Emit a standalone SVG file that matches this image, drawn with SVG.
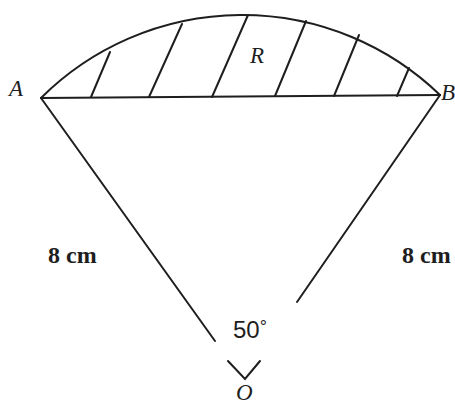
<svg xmlns="http://www.w3.org/2000/svg" width="455" height="405" viewBox="0 0 455 405">
  <style>
    .ln { stroke: #1e1e1e; stroke-width: 2; fill: none; stroke-linecap: round; }
    .lbl { font-family: "Liberation Serif", "Times New Roman", serif; font-style: italic; fill: #1e1e1e; font-size: 23px; }
    .len { font-family: "Liberation Serif", "Times New Roman", serif; font-weight: bold; font-size: 24px; fill: #1e1e1e; }
    .ang { font-family: "Liberation Sans", Arial, sans-serif; font-size: 24px; fill: #1e1e1e; }
  </style>
  <rect width="455" height="405" fill="#ffffff"/>
  <g id="segment">
    <path class="ln" d="M41,98 A285,285 0 0 1 440,95"/>
    <line class="ln" x1="41" y1="98" x2="440" y2="95"/>
  </g>
  <g id="hatching">
    <line class="ln" x1="91" y1="97" x2="110" y2="52"/>
    <line class="ln" x1="149" y1="97" x2="182" y2="24"/>
    <line class="ln" x1="212" y1="97" x2="248" y2="15"/>
    <line class="ln" x1="275" y1="96" x2="306" y2="21"/>
    <line class="ln" x1="334" y1="96" x2="359" y2="35"/>
    <line class="ln" x1="397" y1="96" x2="409" y2="68"/>
  </g>
  <g id="connectors">
    <line class="ln" x1="41" y1="98" x2="215" y2="341"/>
    <line class="ln" x1="440" y1="95" x2="297" y2="302"/>
    <polyline class="ln" points="228,361 245,379 260,361"/>
  </g>
  <g id="A"><text class="lbl" x="9" y="96">A</text></g>
  <g id="B"><text class="lbl" x="441" y="100">B</text></g>
  <g id="R"><text class="lbl" x="250" y="63">R</text></g>
  <g id="O"><text class="lbl" x="236" y="400">O</text></g>
  <g id="len-left"><text class="len" x="48" y="263">8 cm</text></g>
  <g id="len-right"><text class="len" x="402" y="263">8 cm</text></g>
  <g id="angle"><text class="ang" x="233" y="338">50<tspan font-size="18" dy="-5">°</tspan></text></g>
</svg>
